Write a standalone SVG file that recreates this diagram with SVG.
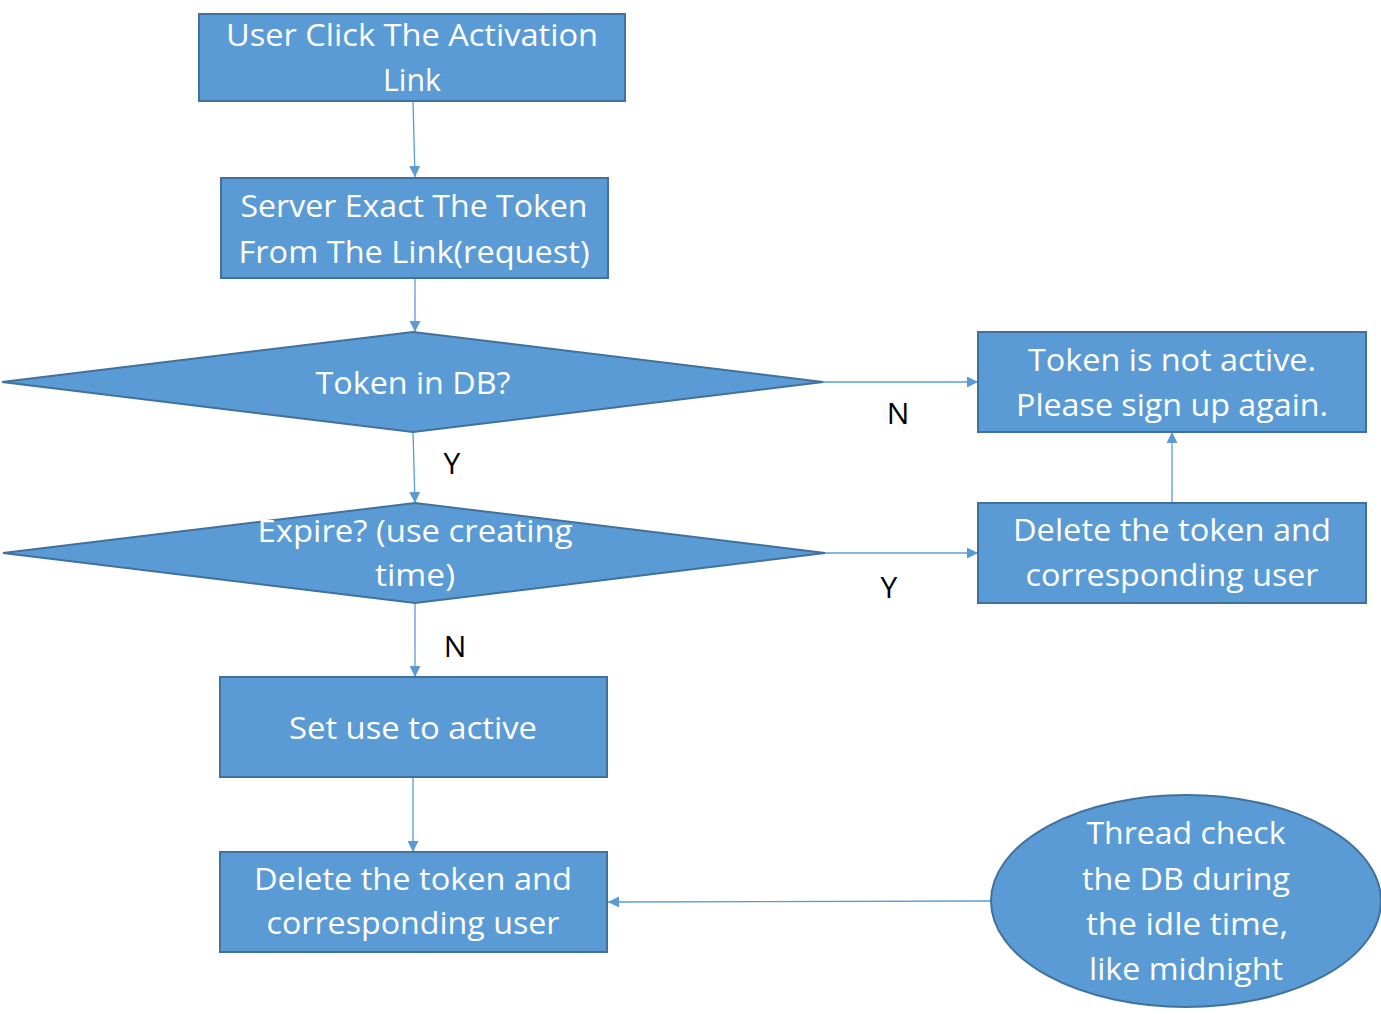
<svg xmlns="http://www.w3.org/2000/svg" width="1381" height="1014" viewBox="0 0 1381 1014">
<style>
.box{fill:#5b9bd5;stroke:#41719c;stroke-width:2}
.t{font-family:"Open Sans","Liberation Sans",sans-serif;font-size:31px;fill:#ffffff;text-anchor:middle}
.lbl{font-family:"Open Sans","Liberation Sans",sans-serif;font-size:30px;fill:#000000;text-anchor:middle}
.c{stroke:#5b9bd5;stroke-width:1.3;fill:none;marker-end:url(#ah)}
</style>
<defs>
<marker id="ah" viewBox="0 0 10 10" refX="10" refY="5" markerUnits="userSpaceOnUse" markerWidth="11" markerHeight="11" orient="auto">
<path d="M0,0 L10,5 L0,10 z" fill="#5b9bd5"/>
</marker>
</defs>
<rect width="1381" height="1014" fill="#ffffff"/>
<g id="connectors">
<path class="c" d="M413,101 L415,177"/>
<path class="c" d="M415,278 L415,332"/>
<path class="c" d="M413,432 L415,503"/>
<path class="c" d="M415,603 L415,677"/>
<path class="c" d="M413,777 L413,852"/>
<path class="c" d="M823,382 L978,382"/>
<path class="c" d="M825,553 L978,553"/>
<path class="c" d="M1172,503 L1172,432"/>
<path class="c" d="M991,901 L608,902"/>
</g>
<g id="labels">
<text class="lbl" x="452" y="474">Y</text>
<text class="lbl" x="455" y="657">N</text>
<text class="lbl" x="898" y="424">N</text>
<text class="lbl" x="889" y="598">Y</text>
</g>
<g id="n1">
<rect class="box" x="199" y="14" width="426" height="87"/>
<text class="t" x="412" y="46" textLength="372" lengthAdjust="spacingAndGlyphs">User Click The Activation</text>
<text class="t" x="412" y="91" textLength="58" lengthAdjust="spacingAndGlyphs">Link</text>
</g>
<g id="n2">
<rect class="box" x="221" y="178" width="387" height="100"/>
<text class="t" x="414" y="217" textLength="347" lengthAdjust="spacingAndGlyphs">Server Exact The Token</text>
<text class="t" x="414" y="263" textLength="351" lengthAdjust="spacingAndGlyphs">From The Link(request)</text>
</g>
<g id="n3">
<polygon class="box" points="2,382 413,332 823,382 413,432"/>
<text class="t" x="413" y="394" textLength="195" lengthAdjust="spacingAndGlyphs">Token in DB?</text>
</g>
<g id="n4">
<polygon class="box" points="3,553 415,503 825,553 415,603"/>
<text class="t" x="415" y="542" textLength="315" lengthAdjust="spacingAndGlyphs">Expire? (use creating</text>
<text class="t" x="415" y="586" textLength="80" lengthAdjust="spacingAndGlyphs">time)</text>
</g>
<g id="n5">
<rect class="box" x="978" y="332" width="388" height="100"/>
<text class="t" x="1172" y="371" textLength="288" lengthAdjust="spacingAndGlyphs">Token is not active.</text>
<text class="t" x="1172" y="416" textLength="312" lengthAdjust="spacingAndGlyphs">Please sign up again.</text>
</g>
<g id="n6">
<rect class="box" x="978" y="503" width="388" height="100"/>
<text class="t" x="1172" y="541" textLength="318" lengthAdjust="spacingAndGlyphs">Delete the token and</text>
<text class="t" x="1172" y="586" textLength="293" lengthAdjust="spacingAndGlyphs">corresponding user</text>
</g>
<g id="n7">
<rect class="box" x="220" y="677" width="387" height="100"/>
<text class="t" x="413" y="739" textLength="248" lengthAdjust="spacingAndGlyphs">Set use to active</text>
</g>
<g id="n8">
<rect class="box" x="220" y="852" width="387" height="100"/>
<text class="t" x="413" y="890" textLength="318" lengthAdjust="spacingAndGlyphs">Delete the token and</text>
<text class="t" x="413" y="934" textLength="293" lengthAdjust="spacingAndGlyphs">corresponding user</text>
</g>
<g id="n9">
<ellipse class="box" cx="1186" cy="901" rx="195" ry="106"/>
<text class="t" x="1186" y="844" textLength="199" lengthAdjust="spacingAndGlyphs">Thread check</text>
<text class="t" x="1186" y="890" textLength="208" lengthAdjust="spacingAndGlyphs">the DB during</text>
<text class="t" x="1187" y="935" textLength="202" lengthAdjust="spacingAndGlyphs">the idle time,</text>
<text class="t" x="1186" y="980" textLength="194" lengthAdjust="spacingAndGlyphs">like midnight</text>
</g>
</svg>
